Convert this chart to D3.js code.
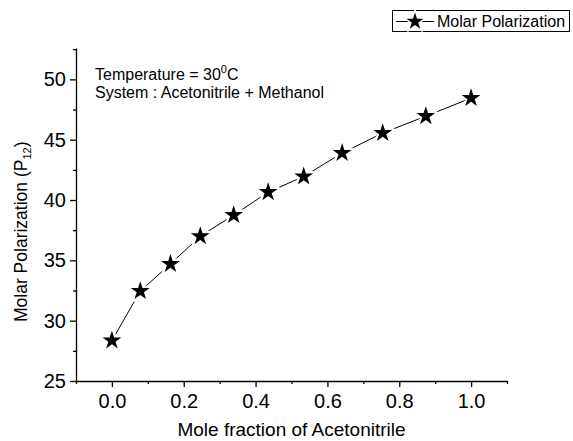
<!DOCTYPE html>
<html>
<head>
<meta charset="utf-8">
<script src="https://cdn.jsdelivr.net/npm/d3@7"></script>
<style>
  body { margin: 0; background: #fff; }
  svg { font-family: "Liberation Sans", Arial, sans-serif; }
  .axis path, .axis line { stroke: #000; stroke-width: 1.3; }
  .axis text { font-size: 20px; fill: #000; font-family: "Liberation Sans", Arial, sans-serif; }
</style>
</head>
<body>
<script>
const moleFraction = [0.0, 0.079, 0.163, 0.246, 0.339, 0.435, 0.534, 0.641, 0.754, 0.874, 1.0];
const molarPolarization = [28.35, 32.45, 34.7, 37.0, 38.75, 40.65, 41.95, 43.9, 45.55, 46.95, 48.45];
const xTicks = [0.0, 0.2, 0.4, 0.6, 0.8, 1.0];
const xMinorTicks = [-0.1, 0.1, 0.3, 0.5, 0.7, 0.9, 1.1];
const yTicks = [25, 30, 35, 40, 45, 50];
const yMinorTicks = [27.5, 32.5, 37.5, 42.5, 47.5, 52.5];

const width = 573,
  height = 441,
  margin = { left: 76, right: 66, top: 48, bottom: 60 };

const svg = d3.select("body")
  .append("svg")
  .attr("width", width)
  .attr("height", height);

const x = d3.scaleLinear()
  .domain([-0.1, 1.1])
  .range([margin.left, width - margin.right]);

const y = d3.scaleLinear()
  .domain([25, 52.6])
  .range([height - margin.bottom, margin.top]);

// minor ticks
svg.append("g")
  .attr("class", "axis")
  .attr("transform", `translate(0,${height - margin.bottom})`)
  .call(d3.axisBottom(x).tickValues(xMinorTicks).tickSize(3).tickFormat(""))
  .call(g => g.select(".domain").remove());

svg.append("g")
  .attr("class", "axis")
  .attr("transform", `translate(${margin.left},0)`)
  .call(d3.axisLeft(y).tickValues(yMinorTicks).tickSize(3).tickFormat(""))
  .call(g => g.select(".domain").remove());

// major ticks
svg.append("g")
  .attr("class", "axis")
  .attr("transform", `translate(0,${height - margin.bottom})`)
  .call(d3.axisBottom(x).tickValues(xTicks).tickSize(6).tickSizeOuter(0).tickPadding(7).tickFormat(d3.format(".1f")));

svg.append("g")
  .attr("class", "axis")
  .attr("transform", `translate(${margin.left},0)`)
  .call(d3.axisLeft(y).tickValues(yTicks).tickSize(6).tickSizeOuter(0).tickPadding(4).tickFormat(d3.format("d")));

// axis titles
svg.append("text")
  .attr("x", (x(-0.1) + x(1.1)) / 2)
  .attr("y", 436)
  .attr("text-anchor", "middle")
  .style("font-size", "19px")
  .text("Mole fraction of Acetonitrile");

const yTitle = svg.append("text")
  .attr("transform", "translate(27,322) rotate(-90)")
  .attr("text-anchor", "start")
  .style("font-size", "17.5px");
yTitle.append("tspan").text("Molar Polarization (P");
yTitle.append("tspan").attr("dy", 4).style("font-size", "11px").text("12");
yTitle.append("tspan").attr("dy", -4).text(")");

// annotation
const note = svg.append("g").style("font-size", "16px");
const t1 = note.append("text").attr("x", 95).attr("y", 80);
t1.append("tspan").text("Temperature = 30");
t1.append("tspan").attr("dy", -7).style("font-size", "11px").text("0");
t1.append("tspan").attr("dy", 7).text("C");
note.append("text").attr("x", 95).attr("y", 98).text("System : Acetonitrile + Methanol");

// data
const data = moleFraction.map((d, i) => ({ x: d, y: molarPolarization[i] }));

svg.append("path")
  .datum(data)
  .attr("fill", "none")
  .attr("stroke", "#000")
  .attr("stroke-width", 1)
  .attr("d", d3.line().x(d => x(d.x)).y(d => y(d.y)));

const star = d3.symbol().type(d3.symbolStar).size(110);

svg.selectAll(".pt")
  .data(data)
  .enter()
  .append("path")
  .attr("class", "pt")
  .attr("transform", d => `translate(${x(d.x)},${y(d.y)})`)
  .attr("d", star)
  .attr("fill", "#000")
  .attr("stroke", "#fff")
  .attr("stroke-width", 5)
  .attr("stroke-linejoin", "round")
  .attr("paint-order", "stroke");

// legend
const legend = svg.append("g");
legend.append("rect")
  .attr("x", 392.5).attr("y", 10.5)
  .attr("width", 177).attr("height", 21)
  .attr("fill", "#fff").attr("stroke", "#000").attr("stroke-width", 1);
legend.append("line")
  .attr("x1", 396).attr("x2", 434).attr("y1", 21.5).attr("y2", 21.5)
  .attr("stroke", "#000");
legend.append("path")
  .attr("transform", "translate(415,21.5)")
  .attr("d", d3.symbol().type(d3.symbolStar).size(90))
  .attr("fill", "#000")
  .attr("stroke", "#fff")
  .attr("stroke-width", 3)
  .attr("paint-order", "stroke");
legend.append("text")
  .attr("x", 437).attr("y", 27)
  .style("font-size", "16px")
  .text("Molar Polarization");
</script>
</body>
</html>
